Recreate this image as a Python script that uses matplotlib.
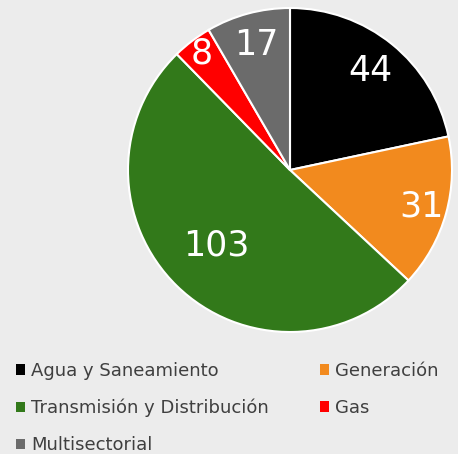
import matplotlib
matplotlib.use("Agg")
import matplotlib.pyplot as plt
import numpy as np

sectors = ["Agua y Saneamiento", "Generación", "Transmisión y Distribución", "Gas", "Multisectorial"]
counts = [44, 31, 103, 8, 17]
colors = ["#000000", "#f28a1e", "#32791a", "#ff0000", "#6b6b6b"]
label_r = [0.79, 0.84, 0.65, 0.9, 0.8]

fig = plt.figure(figsize=(4.58, 4.54), dpi=100)
fig.patch.set_facecolor("#ececec")

ax = fig.add_axes([128/458, (454-332)/454, 324/458, 324/454])
wedges, _ = ax.pie(counts, colors=colors, startangle=90, counterclock=False,
                   wedgeprops=dict(edgecolor="white", linewidth=1.5))
ax.set_xlim(-1.0, 1.0)
ax.set_ylim(-1.0, 1.0)
ax.set_aspect("equal")

for w, n, r in zip(wedges, counts, label_r):
    ang = np.deg2rad((w.theta1 + w.theta2) / 2)
    ax.text(r*np.cos(ang), r*np.sin(ang), str(n), color="white", fontsize=25,
            ha="center", va="center")

order = [0, 2, 4, 1, 3]
leg = fig.legend([wedges[i] for i in order], [sectors[i] for i in order],
                 loc="upper left", bbox_to_anchor=(16/458, 1 - 362/454), ncol=2,
                 frameon=False, fontsize=13, handlelength=0.5, handleheight=0.5,
                 handletextpad=0.35, columnspacing=2.8, labelspacing=1.05,
                 borderpad=0, borderaxespad=0, labelcolor="#3f3f3f")
for h in leg.legend_handles:
    h.set_edgecolor("none")

fig.savefig("out.png", dpi=100, facecolor=fig.get_facecolor())
